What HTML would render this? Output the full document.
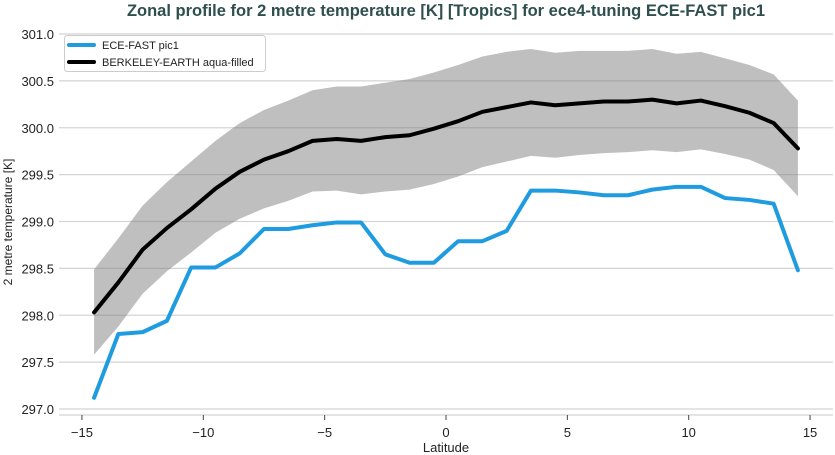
<!DOCTYPE html>
<html><head><meta charset="utf-8"><style>
body{margin:0;background:#fff;}
svg{display:block;font-family:"Liberation Sans",sans-serif;}
</style></head><body>
<svg id="c" width="835" height="455" xmlns="http://www.w3.org/2000/svg"></svg>
<script>
const X=v=>446+v*24.27, Y=v=>409-(v-297)*93.75;
const blue=[297.12,297.8,297.82,297.94,298.51,298.51,298.66,298.92,298.92,298.96,298.99,298.99,298.65,298.56,298.56,298.79,298.79,298.9,299.33,299.33,299.31,299.28,299.28,299.34,299.37,299.37,299.25,299.23,299.19,298.48];
const blk=[298.03,298.35,298.7,298.93,299.13,299.35,299.53,299.66,299.75,299.86,299.88,299.86,299.9,299.92,299.99,300.07,300.17,300.22,300.27,300.24,300.26,300.28,300.28,300.3,300.26,300.29,300.23,300.16,300.05,299.78];
const up=[298.49,298.82,299.17,299.42,299.64,299.86,300.05,300.19,300.29,300.4,300.44,300.44,300.48,300.52,300.59,300.67,300.76,300.81,300.84,300.8,300.82,300.82,300.82,300.84,300.79,300.81,300.74,300.67,300.57,300.29];
const lo=[297.58,297.88,298.23,298.47,298.67,298.88,299.03,299.14,299.22,299.32,299.33,299.29,299.32,299.34,299.4,299.48,299.58,299.64,299.7,299.68,299.71,299.73,299.74,299.76,299.74,299.77,299.72,299.66,299.55,299.27];
let s='';
s+='<text x="446" y="16" text-anchor="middle" font-size="16.5" font-weight="bold" fill="#2f4f4f">Zonal profile for 2 metre temperature [K] [Tropics] for ece4-tuning ECE-FAST pic1</text>';
for(let i=0;i<=8;i++){const v=297+i*0.5,y=Y(v);s+=`<line x1="59" x2="833" y1="${y}" y2="${y}" stroke="#d4d4d4" stroke-width="1.3"/>`;s+=`<text x="54" y="${y+5}" text-anchor="end" font-size="13" fill="#222">${v.toFixed(1)}</text>`;}
s+='<line x1="59" x2="833" y1="415" y2="415" stroke="#d4d4d4" stroke-width="1.3"/>';
for(const t of [-15,-10,-5,0,5,10,15]){const x=X(t);s+=`<line x1="${x}" x2="${x}" y1="415" y2="420" stroke="#444"/>`;s+=`<text x="${x}" y="437" text-anchor="middle" font-size="13" fill="#222">${t<0?'\u2212'+(-t):t}</text>`;}
let pts=[];for(let i=0;i<30;i++)pts.push(X(-14.5+i)+','+Y(up[i]));for(let i=29;i>=0;i--)pts.push(X(-14.5+i)+','+Y(lo[i]));
s+=`<polygon points="${pts.join(' ')}" fill="#808080" fill-opacity="0.5"/>`;
const pl=(a,c)=>`<polyline fill="none" stroke="${c}" stroke-width="4" stroke-linejoin="round" stroke-linecap="round" points="${a.map((v,i)=>X(-14.5+i)+','+Y(v)).join(' ')}"/>`;
s+=pl(blue,'#1f9be0');s+=pl(blk,'#000');
s+='<rect x="64.5" y="35.5" width="201" height="36" rx="3" fill="#fff" fill-opacity="0.85" stroke="#ccc"/>';
s+='<line x1="69" x2="94" y1="45" y2="45" stroke="#1f9be0" stroke-width="4" stroke-linecap="round"/><text x="102" y="49" font-size="11" fill="#222">ECE-FAST pic1</text>';
s+='<line x1="69" x2="94" y1="62" y2="62" stroke="#000" stroke-width="4" stroke-linecap="round"/><text x="102" y="66" font-size="11" fill="#222">BERKELEY-EARTH aqua-filled</text>';
s+='<text x="446" y="452" text-anchor="middle" font-size="13" fill="#222">Latitude</text>';
s+='<text transform="translate(12,222) rotate(-90)" text-anchor="middle" font-size="12" fill="#222">2 metre temperature [K]</text>';
document.getElementById('c').innerHTML=s;
</script>
</body></html>
